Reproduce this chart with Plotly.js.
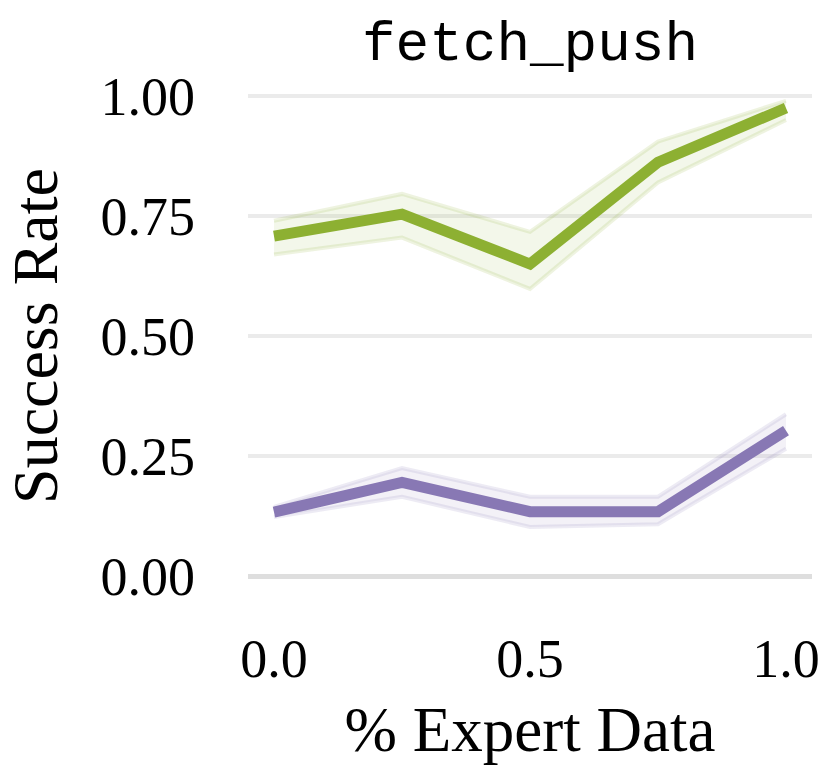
<!DOCTYPE html>
<html>
<head>
<meta charset="utf-8">
<script src="https://cdn.plot.ly/plotly-3.0.1.min.js"></script>
<style>
  html, body { margin: 0; padding: 0; background: #fff; }
  #chart { width: 831px; height: 768px; }
</style>
</head>
<body>
<div id="chart"></div>
<script>
// % expert data on x
const expertFrac = [0, 0.25, 0.5, 0.75, 1.0];

// green run: mean and band
const greenMean  = [0.708, 0.754, 0.650, 0.862, 0.975];
const greenUpper = [0.740, 0.796, 0.717, 0.905, 0.990];
const greenLower = [0.670, 0.705, 0.598, 0.820, 0.950];

// purple run: mean and band
const purpleMean  = [0.133, 0.195, 0.134, 0.134, 0.303];
const purpleUpper = [0.144, 0.225, 0.165, 0.165, 0.337];
const purpleLower = [0.123, 0.165, 0.102, 0.108, 0.265];

const yTicks = [0, 0.25, 0.5, 0.75, 1.0];
const yTickText = ['0.00', '0.25', '0.50', '0.75', '1.00'];
const xTicks = [0, 0.5, 1.0];
const xTickText = ['0.0', '0.5', '1.0'];

const serif = 'Liberation Serif, Times New Roman, serif';

function band(upper, lower, rgb){
  // lower edge then upper edge filled back to it
  let edge = {color: 'rgba(' + rgb + ',0.15)', width: 4};
  return [
    {x: expertFrac, y: lower, mode: 'lines', line: edge,
     hoverinfo: 'skip', showlegend: false},
    {x: expertFrac, y: upper, mode: 'lines', line: edge,
     fill: 'tonexty', fillcolor: 'rgba(' + rgb + ',0.1)',
     hoverinfo: 'skip', showlegend: false}
  ];
}

let traces = [];
traces = traces.concat(band(greenUpper, greenLower, '141,176,50'));
traces.push({x: expertFrac, y: greenMean, mode: 'lines',
  line: {color: 'rgb(141,176,50)', width: 11}, showlegend: false});
traces = traces.concat(band(purpleUpper, purpleLower, '136,120,180'));
traces.push({x: expertFrac, y: purpleMean, mode: 'lines',
  line: {color: 'rgb(136,120,180)', width: 11}, showlegend: false});

let layout = {
  width: 831,
  height: 768,
  margin: {l: 248, r: 19, t: 72, b: 168, pad: 0},
  paper_bgcolor: '#fff',
  plot_bgcolor: '#fff',
  showlegend: false,
  title: {
    text: 'fetch_push',
    font: {family: 'Liberation Mono, Courier New, monospace', size: 56, color: '#000'},
    x: 0.5, xref: 'paper', xanchor: 'center',
    y: 1 - 40/768, yref: 'container', yanchor: 'middle'
  },
  xaxis: {
    range: [-0.0508, 1.0508],
    tickvals: xTicks, ticktext: xTickText,
    showgrid: false, zeroline: false, showline: false,
    ticks: '', ticklabelstandoff: 22,
    tickfont: {family: serif, size: 54, color: '#000'},
    title: {text: '% Expert Data', font: {family: serif, size: 63, color: '#000'}, standoff: 18}
  },
  yaxis: {
    range: [-0.05, 1.05],
    tickvals: yTicks, ticktext: yTickText,
    showgrid: true, gridcolor: '#ebebeb', gridwidth: 4,
    zeroline: true, zerolinecolor: '#dedede', zerolinewidth: 5,
    showline: false, ticks: '', ticklabelstandoff: 52,
    tickfont: {family: serif, size: 54, color: '#000'},
    title: {text: 'Success Rate', font: {family: serif, size: 64, color: '#000'}, standoff: 37}
  }
};

Plotly.newPlot('chart', traces, layout, {displayModeBar: false, staticPlot: true});
</script>
</body>
</html>
